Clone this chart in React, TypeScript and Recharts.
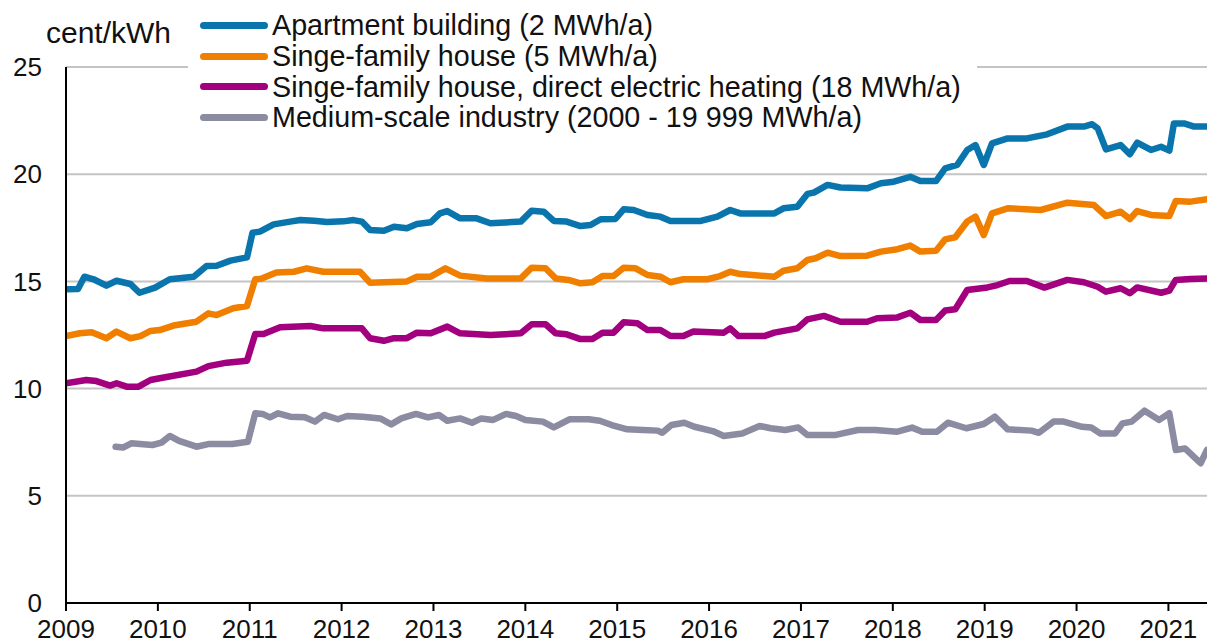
import React from "react";
import { LineChart, Line, XAxis, YAxis, CartesianGrid, Legend } from "recharts";

const FONT = '"Liberation Sans", Arial, sans-serif';

const yearTicks = [2009, 2010, 2011, 2012, 2013, 2014, 2015, 2016, 2017, 2018, 2019, 2020, 2021];
const valueTicks = [0, 5, 10, 15, 20, 25];
const yUnit = "cent/kWh";

const seriesNames = [
  "Apartment building (2 MWh/a)",
  "Singe-family house (5 MWh/a)",
  "Singe-family house, direct electric heating (18 MWh/a)",
  "Medium-scale industry (2000 - 19 999 MWh/a)",
];
const seriesColors = ["#0a75ad", "#f07f00", "#a2007e", "#8b8ba2"];

// [year as decimal, cent/kWh]
const apartment: [number, number][] = [
  [2009.0, 14.63], [2009.13, 14.64], [2009.2, 15.22], [2009.3, 15.1], [2009.44, 14.8], [2009.55, 15.03],
  [2009.7, 14.88], [2009.8, 14.47], [2009.97, 14.71], [2010.13, 15.1], [2010.39, 15.22], [2010.53, 15.72],
  [2010.64, 15.73], [2010.79, 15.97], [2010.97, 16.12], [2011.03, 17.27], [2011.11, 17.32], [2011.26, 17.66],
  [2011.44, 17.79], [2011.55, 17.86], [2011.7, 17.83], [2011.84, 17.77], [2012.02, 17.8], [2012.13, 17.86],
  [2012.22, 17.79], [2012.31, 17.4], [2012.46, 17.36], [2012.57, 17.55], [2012.71, 17.48], [2012.82, 17.68],
  [2012.97, 17.76], [2013.07, 18.17], [2013.15, 18.28], [2013.29, 17.94], [2013.47, 17.94], [2013.62, 17.71],
  [2013.95, 17.79], [2014.07, 18.3], [2014.2, 18.25], [2014.31, 17.82], [2014.45, 17.79], [2014.6, 17.58],
  [2014.71, 17.63], [2014.82, 17.9], [2014.98, 17.91], [2015.07, 18.36], [2015.18, 18.33], [2015.33, 18.1],
  [2015.47, 18.02], [2015.58, 17.82], [2015.91, 17.82], [2016.09, 18.02], [2016.23, 18.33], [2016.34, 18.17],
  [2016.71, 18.17], [2016.81, 18.41], [2016.96, 18.48], [2017.07, 19.08], [2017.14, 19.14], [2017.29, 19.5],
  [2017.43, 19.38], [2017.72, 19.34], [2017.87, 19.58], [2018.01, 19.65], [2018.19, 19.88], [2018.3, 19.68],
  [2018.47, 19.68], [2018.57, 20.27], [2018.7, 20.43], [2018.81, 21.13], [2018.9, 21.36], [2018.99, 20.43],
  [2019.08, 21.44], [2019.25, 21.67], [2019.46, 21.67], [2019.68, 21.86], [2019.9, 22.22], [2020.08, 22.22],
  [2020.17, 22.33], [2020.23, 22.14], [2020.32, 21.16], [2020.48, 21.36], [2020.58, 20.93], [2020.66, 21.47],
  [2020.81, 21.13], [2020.92, 21.28], [2021.01, 21.1], [2021.06, 22.37], [2021.17, 22.37], [2021.28, 22.22],
  [2021.42, 22.22],
];

const singleFamily: [number, number][] = [
  [2009.0, 12.45], [2009.15, 12.58], [2009.28, 12.63], [2009.44, 12.35], [2009.55, 12.66], [2009.7, 12.35],
  [2009.81, 12.45], [2009.92, 12.69], [2010.02, 12.73], [2010.17, 12.94], [2010.42, 13.12], [2010.55, 13.51],
  [2010.64, 13.43], [2010.82, 13.75], [2010.97, 13.85], [2011.06, 15.1], [2011.13, 15.13], [2011.29, 15.41],
  [2011.48, 15.45], [2011.62, 15.61], [2011.8, 15.45], [2012.2, 15.45], [2012.31, 14.94], [2012.71, 15.0],
  [2012.82, 15.22], [2012.97, 15.22], [2013.13, 15.61], [2013.29, 15.27], [2013.58, 15.14], [2013.95, 15.14],
  [2014.07, 15.64], [2014.22, 15.61], [2014.33, 15.14], [2014.47, 15.07], [2014.6, 14.91], [2014.73, 14.96],
  [2014.84, 15.25], [2014.96, 15.25], [2015.07, 15.64], [2015.2, 15.61], [2015.33, 15.3], [2015.47, 15.22],
  [2015.58, 14.96], [2015.72, 15.1], [2015.98, 15.1], [2016.12, 15.25], [2016.23, 15.45], [2016.34, 15.34],
  [2016.71, 15.22], [2016.81, 15.5], [2016.96, 15.61], [2017.07, 16.0], [2017.16, 16.08], [2017.29, 16.34],
  [2017.43, 16.18], [2017.72, 16.2], [2017.87, 16.39], [2018.05, 16.5], [2018.19, 16.67], [2018.3, 16.39],
  [2018.47, 16.43], [2018.57, 16.96], [2018.68, 17.06], [2018.81, 17.79], [2018.9, 18.02], [2018.99, 17.16],
  [2019.08, 18.17], [2019.25, 18.41], [2019.61, 18.33], [2019.9, 18.67], [2020.19, 18.56], [2020.32, 18.05],
  [2020.48, 18.25], [2020.58, 17.91], [2020.66, 18.28], [2020.81, 18.1], [2021.01, 18.05], [2021.08, 18.75],
  [2021.24, 18.72], [2021.42, 18.83],
];

const electricHeating: [number, number][] = [
  [2009.0, 10.25], [2009.22, 10.4], [2009.33, 10.35], [2009.48, 10.14], [2009.55, 10.25], [2009.66, 10.09],
  [2009.79, 10.09], [2009.92, 10.4], [2010.02, 10.48], [2010.42, 10.79], [2010.55, 11.05], [2010.75, 11.21],
  [2010.97, 11.3], [2011.06, 12.55], [2011.15, 12.55], [2011.33, 12.86], [2011.66, 12.92], [2011.8, 12.81],
  [2012.22, 12.81], [2012.31, 12.35], [2012.46, 12.23], [2012.57, 12.35], [2012.71, 12.35], [2012.82, 12.61],
  [2012.97, 12.58], [2013.15, 12.89], [2013.29, 12.58], [2013.62, 12.5], [2013.95, 12.58], [2014.07, 13.0],
  [2014.22, 13.0], [2014.33, 12.58], [2014.45, 12.53], [2014.6, 12.31], [2014.73, 12.31], [2014.84, 12.61],
  [2014.96, 12.61], [2015.07, 13.09], [2015.22, 13.05], [2015.33, 12.73], [2015.47, 12.73], [2015.58, 12.45],
  [2015.72, 12.45], [2015.83, 12.66], [2016.16, 12.61], [2016.23, 12.81], [2016.32, 12.45], [2016.6, 12.45],
  [2016.71, 12.61], [2016.96, 12.81], [2017.07, 13.23], [2017.25, 13.39], [2017.43, 13.12], [2017.72, 13.12],
  [2017.83, 13.28], [2018.05, 13.32], [2018.19, 13.54], [2018.3, 13.2], [2018.47, 13.2], [2018.57, 13.64],
  [2018.68, 13.7], [2018.81, 14.6], [2019.03, 14.72], [2019.14, 14.83], [2019.27, 15.02], [2019.46, 15.02],
  [2019.65, 14.71], [2019.9, 15.07], [2020.08, 14.96], [2020.23, 14.75], [2020.32, 14.52], [2020.48, 14.68],
  [2020.58, 14.45], [2020.66, 14.72], [2020.92, 14.47], [2021.01, 14.57], [2021.08, 15.07], [2021.24, 15.11],
  [2021.42, 15.14],
];

const industry: [number, number][] = [
  [2009.54, 7.29], [2009.62, 7.25], [2009.71, 7.45], [2009.94, 7.37], [2010.04, 7.48], [2010.13, 7.79],
  [2010.23, 7.56], [2010.42, 7.29], [2010.56, 7.42], [2010.81, 7.42], [2010.98, 7.52], [2011.06, 8.85],
  [2011.14, 8.82], [2011.22, 8.66], [2011.31, 8.85], [2011.44, 8.69], [2011.6, 8.66], [2011.71, 8.46],
  [2011.81, 8.77], [2011.96, 8.57], [2012.06, 8.72], [2012.23, 8.69], [2012.42, 8.61], [2012.54, 8.33],
  [2012.65, 8.61], [2012.81, 8.82], [2012.94, 8.66], [2013.06, 8.77], [2013.15, 8.5], [2013.29, 8.61],
  [2013.42, 8.41], [2013.52, 8.61], [2013.65, 8.54], [2013.79, 8.82], [2013.9, 8.72], [2014.0, 8.54],
  [2014.19, 8.46], [2014.31, 8.19], [2014.48, 8.57], [2014.69, 8.57], [2014.81, 8.5], [2014.94, 8.3],
  [2015.11, 8.1], [2015.28, 8.07], [2015.44, 8.04], [2015.49, 7.94], [2015.59, 8.3], [2015.73, 8.41],
  [2015.84, 8.22], [2016.04, 8.02], [2016.16, 7.79], [2016.36, 7.91], [2016.55, 8.26], [2016.67, 8.15],
  [2016.83, 8.07], [2016.97, 8.19], [2017.07, 7.84], [2017.38, 7.84], [2017.62, 8.07], [2017.81, 8.07],
  [2018.05, 7.99], [2018.21, 8.18], [2018.32, 7.99], [2018.48, 7.99], [2018.6, 8.41], [2018.8, 8.15],
  [2018.99, 8.35], [2019.11, 8.69], [2019.25, 8.1], [2019.51, 8.04], [2019.59, 7.94], [2019.75, 8.46],
  [2019.86, 8.46], [2020.06, 8.22], [2020.16, 8.19], [2020.26, 7.91], [2020.42, 7.91], [2020.5, 8.38],
  [2020.6, 8.46], [2020.74, 8.97], [2020.9, 8.54], [2021.01, 8.85], [2021.08, 7.14], [2021.18, 7.21],
  [2021.35, 6.52], [2021.42, 7.14],
];

const allSeries = [apartment, singleFamily, electricHeating, industry];

const toRows = (pairs: [number, number][]) => pairs.map(([t, v]) => ({ t, v }));

const W = 1207;
const H = 644;

function LegendBox() {
  return (
    <div
      style={{
        width: 789,
        height: 136,
        background: "#fff",
        paddingTop: 10,
        boxSizing: "border-box",
        fontFamily: FONT,
      }}
    >
      {seriesNames.map((name, i) => (
        <div key={name} style={{ display: "flex", alignItems: "center", height: 30.7 }}>
          <span
            style={{
              display: "inline-block",
              marginLeft: 12,
              width: 68,
              height: 7,
              borderRadius: 3.5,
              background: seriesColors[i],
            }}
          />
          <span style={{ marginLeft: 4, fontSize: 28.7, lineHeight: "30px", color: "#111", whiteSpace: "nowrap" }}>
            {name}
          </span>
        </div>
      ))}
    </div>
  );
}

export default function App() {
  return (
    <div style={{ position: "absolute", left: 0, top: 0, width: W, height: H, background: "#fff", fontFamily: FONT }}>
      <LineChart width={W} height={H} margin={{ top: 67, right: 0, bottom: 0, left: 0 }}>
        <CartesianGrid vertical={false} stroke="#c4c4c4" strokeWidth={2} />
        <XAxis
          type="number"
          dataKey="t"
          domain={[2009, 2021.42]}
          ticks={yearTicks}
          allowDataOverflow
          interval={0}
          height={41}
          tickSize={8}
          tickMargin={9}
          tickFormatter={(v: number) => String(v)}
          tick={{ fontSize: 26, fill: "#111", fontFamily: FONT }}
          axisLine={{ stroke: "#000", strokeWidth: 2 }}
          tickLine={{ stroke: "#000", strokeWidth: 2 }}
        />
        <YAxis
          type="number"
          domain={[0, 25]}
          ticks={valueTicks}
          interval={0}
          width={66}
          tickSize={0}
          tickMargin={24}
          tickLine={false}
          tick={{ fontSize: 26, fill: "#111", fontFamily: FONT }}
          axisLine={{ stroke: "#000", strokeWidth: 2 }}
          label={{
            content: () => (
              <text x={46} y={43} fontSize={30} fill="#111" fontFamily={FONT}>
                {yUnit}
              </text>
            ),
          }}
        />
        {allSeries.map((s, i) => (
          <Line
            key={seriesNames[i]}
            data={toRows(s)}
            dataKey="v"
            name={seriesNames[i]}
            type="linear"
            stroke={seriesColors[i]}
            strokeWidth={6.5}
            strokeLinejoin="round"
            strokeLinecap="round"
            dot={false}
            activeDot={false}
            isAnimationActive={false}
          />
        ))}
        <Legend
          layout="vertical"
          align="center"
          verticalAlign="middle"
          content={() => <LegendBox />}
          wrapperStyle={{ position: "absolute", left: 188, top: 0, width: 789, height: 136, margin: 0 }}
        />
      </LineChart>
    </div>
  );
}
